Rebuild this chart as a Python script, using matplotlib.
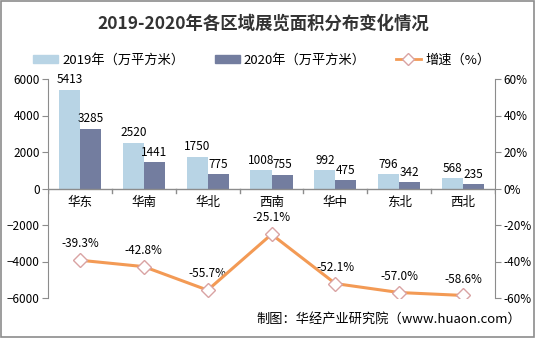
import matplotlib.pyplot as plt
import numpy as np
from matplotlib.lines import Line2D
from matplotlib.patches import Rectangle

plt.rcParams['font.family'] = ['Noto Sans CJK SC', 'DejaVu Sans']

regions = ['华东', '华南', '华北', '西南', '华中', '东北', '西北']
area_2019 = [5413, 2520, 1750, 1008, 992, 796, 568]
area_2020 = [3285, 1441, 775, 755, 475, 342, 235]
growth = [-39.3, -42.8, -55.7, -25.1, -52.1, -57.0, -58.6]

c19 = '#b8d4e5'
c20 = '#737d9f'
cline = '#f39a55'

fig = plt.figure(figsize=(5.36, 3.38), dpi=100)
fig.patches.append(Rectangle((0.002, 0.003), 0.995, 0.994, transform=fig.transFigure,
                             fill=False, edgecolor='#8c8c8c', linewidth=1.2))
ax = fig.add_axes([48 / 536, 1 - 298 / 338, 447 / 536, 219 / 338])
ax2 = ax.twinx()

x = np.arange(len(regions))
w = 0.33
ax.bar(x - w / 2, area_2019, w, color=c19, zorder=2)
ax.bar(x + w / 2, area_2020, w, color=c20, zorder=2)
for i in x:
    ax.text(i - w / 2, area_2019[i] + 180, f'{area_2019[i]}', ha='center', va='bottom', fontsize=8.5)
    ax.text(i + w / 2, area_2020[i] + 180, f'{area_2020[i]}', ha='center', va='bottom', fontsize=8.5)
    ax.text(i, -420, regions[i], ha='center', va='top', fontsize=9)

ax.set_xlim(-0.5, len(regions) - 0.5)
ax.set_ylim(-6000, 6000)
ax.set_yticks(range(-6000, 6001, 2000))
ax.axhline(0, color='#8c8c8c', linewidth=1, zorder=3)
for b in np.arange(-0.5, len(regions), 1.0):
    ax.plot([b, b], [0, -250], color='#8c8c8c', linewidth=1, zorder=3)
ax.set_xticks([])

ax2.plot(x, growth, color=cline, linewidth=2.2, marker='D', markersize=7,
         markerfacecolor='white', markeredgecolor='#d9a3a3', markeredgewidth=1,
         zorder=4)
for i in x:
    ax2.text(i, growth[i] + 9, f'{growth[i]:.1f}%', ha='center', va='center', fontsize=8.5)
ax2.set_ylim(-60, 60)
ax2.set_yticks(range(-60, 61, 20))
ax2.set_yticklabels([f'{v}%' for v in range(-60, 61, 20)])

for a in (ax, ax2):
    for s in ('top', 'bottom'):
        a.spines[s].set_visible(False)
    a.tick_params(axis='y', labelsize=8.5, color='#8c8c8c', length=4, pad=2)
ax.spines['left'].set_color('#8c8c8c')
ax.spines['right'].set_visible(False)
ax2.spines['left'].set_visible(False)
ax2.spines['right'].set_color('#8c8c8c')

fig.text(0.491, 1 - 24 / 338, '2019-2020年各区域展览面积分布变化情况', ha='center', va='center',
         fontsize=12.5, fontweight='bold', color='#333333')

handles = [Rectangle((0, 0), 1, 1, color=c19), Rectangle((0, 0), 1, 1, color=c20),
           Line2D([], [], color=cline, linewidth=2, marker='D', markersize=6,
                  markerfacecolor='white', markeredgecolor='#d9a3a3')]
fig.legend(handles, ['2019年（万平方米）', '2020年（万平方米）', '增速（%）'],
           loc='center', bbox_to_anchor=(0.488, 1 - 60 / 338), ncol=3, frameon=False,
           fontsize=9.5, handlelength=1.9, handleheight=0.5, handletextpad=0.3,
           columnspacing=2.3)

fig.text(0.726, 1 - 319 / 338, '制图：华经产业研究院（www.huaon.com）', ha='center', va='center',
         fontsize=9.5)

fig.savefig('out.png', dpi=100)
